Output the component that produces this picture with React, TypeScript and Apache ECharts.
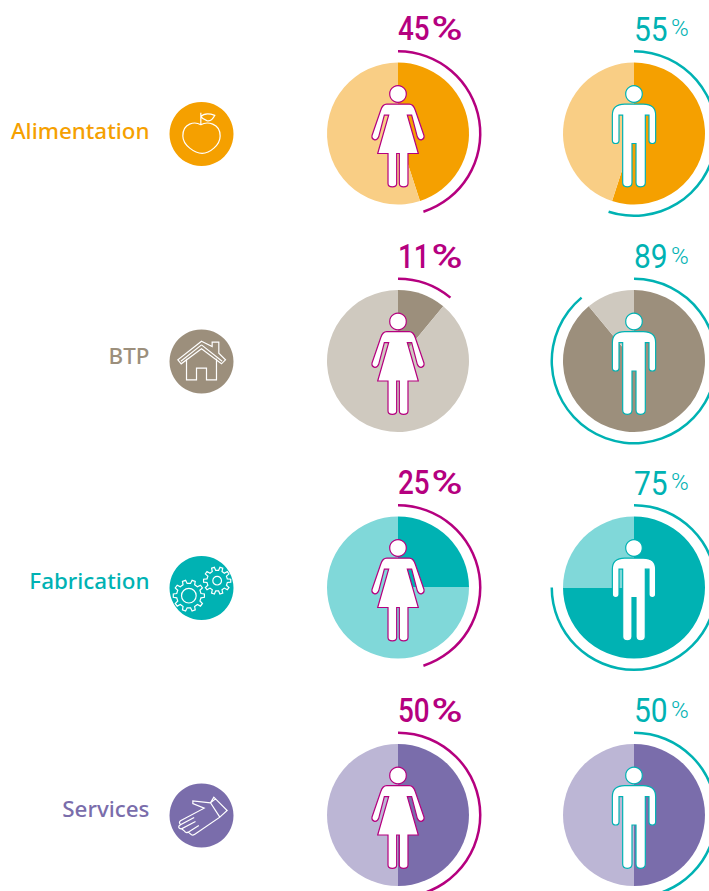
import React, { useEffect, useRef } from "react";
import * as echarts from "echarts";

const categories = ["Alimentation", "BTP", "Fabrication", "Services"];
const womenShare = [45, 11, 25, 50];
const menShare = [55, 89, 75, 50];
const womenArc = [45, 11, 45, 50];
const menArc = [55, 89, 75, 50];
const strongColors = ["#f5a000", "#9c8f7c", "#00b2b3", "#7a6dab"];
const paleColors = ["#f9ce85", "#cfc9bf", "#80d8d9", "#bcb6d5"];
const rowCenters = [133.5, 361, 587.5, 815];
const labelCenters = [130, 355, 580, 808];
const icons = ["apple", "house", "gears", "hand"];

const WOMAN = "#b5007f";
const MAN = "#00b2b3";
const WOMAN_X = 398;
const MAN_X = 634;
const ICON_X = 201.5;

function gear(cx: number, cy: number, ro: number, ri: number, teeth: number, hole: number) {
  const pts: string[] = [];
  const step = (Math.PI * 2) / teeth;
  for (let i = 0; i < teeth; i++) {
    const a = i * step;
    const seq: [number, number][] = [
      [ri, a - step * 0.28],
      [ro, a - step * 0.17],
      [ro, a + step * 0.17],
      [ri, a + step * 0.28],
    ];
    seq.forEach(([r, t], j) => {
      const p = `${(cx + r * Math.cos(t)).toFixed(1)},${(cy + r * Math.sin(t)).toFixed(1)}`;
      pts.push((i === 0 && j === 0 ? "M" : "L") + p);
    });
  }
  pts.push("Z");
  pts.push(`M${cx - hole},${cy} A${hole},${hole} 0 1,1 ${cx + hole},${cy} A${hole},${hole} 0 1,1 ${cx - hole},${cy} Z`);
  return pts.join(" ");
}

const PATHS: Record<string, string> = {
  womanBody:
    "M-34,-88 L34,-88 Q46,-88 52,-70 L78,6 Q80,16 70,19 Q62,20 58,10 L41,-55 L28,-55 L61,60 L30,60 L30,150 Q30,160 17,160 Q4,160 4,150 L4,60 L-4,60 L-4,150 Q-4,160 -17,160 Q-30,160 -30,150 L-30,60 L-61,60 L-28,-55 L-41,-55 L-58,10 Q-62,20 -70,19 Q-80,16 -78,6 L-52,-70 Q-46,-88 -34,-88 Z",
  manBody:
    "M-28,-88 L28,-88 Q65,-88 65,-55 L65,20 Q65,30 55,30 Q45,30 45,20 L45,-55 L34,-55 L34,147 Q34,160 20,160 Q6,160 6,147 L6,30 L-6,30 L-6,147 Q-6,160 -20,160 Q-34,160 -34,147 L-34,-55 L-45,-55 L-45,20 Q-45,30 -55,30 Q-65,30 -65,20 L-65,-55 Q-65,-88 -28,-88 Z",
  apple:
    "M-2,-28 C-20,-38 -56,-34 -56,6 C-56,34 -20,58 2,58 C24,58 56,34 56,6 C56,-34 16,-38 -2,-28 Z M-2,-28 L-2,-64 M-2,-52 Q10,-66 40,-56 Q30,-36 16,-40 Q4,-44 -2,-52 Z",
  house:
    "M0,-61 L32,-45 L32,-58 L52,-58 L52,-25 L72,-5 L60,7 L0,-38 L-61,7 L-71,-5 Z M0,-50 L-62,-1 M0,-50 L62,-1 M-45,-8 L-45,55 L-15,55 L-15,20 L15,20 L15,55 L45,55 L45,-8",
  gears: gear(-38, 23, 47, 37, 10, 22) + " " + gear(47, -22, 41, 31, 10, 13),
  hand:
    "M27,-38 L-26,-44 L-26,-36 L8,-22 L-63,16 Q-70,22 -62,27 L-22,6 M-62,27 L-68,32 Q-70,40 -60,40 L-18,18 M-60,40 L-52,46 Q-48,54 -40,50 L-8,30 M-40,50 L-30,58 Q-26,60 -20,56 L55,5 L27,-38 L37,-55 L77,-15 L55,5 M27,-38 L42,-50",
};

Object.keys(PATHS).forEach((name) => {
  echarts.graphic.registerShape(name, echarts.graphic.extendPath(PATHS[name] as any, {}) as any);
});

function sharePie(center: [number, number], value: number, strong: string, pale: string) {
  return {
    type: "pie",
    silent: true,
    center,
    radius: [0, 71],
    startAngle: 90,
    label: { show: false },
    labelLine: { show: false },
    itemStyle: { borderWidth: 0 },
    data: [
      { value, itemStyle: { color: strong } },
      { value: 100 - value, itemStyle: { color: pale } },
    ],
  };
}

function ringPie(center: [number, number], value: number, color: string) {
  return {
    type: "pie",
    silent: true,
    center,
    radius: [81, 83.5],
    startAngle: 90,
    label: { show: false },
    labelLine: { show: false },
    itemStyle: { borderWidth: 0 },
    data: [
      { value, itemStyle: { color } },
      { value: 100 - value, itemStyle: { color: "rgba(0,0,0,0)" } },
    ],
  };
}

const FIG = 1 / 3;

function figure(kind: "womanBody" | "manBody", x: number, y: number, color: string) {
  return [
    {
      type: kind,
      x,
      y,
      scaleX: FIG,
      scaleY: FIG,
      z: 50,
      silent: true,
      style: { fill: "#ffffff", stroke: color, lineWidth: 3.6 },
    },
    {
      type: "circle",
      x,
      y: y - 39.5,
      z: 50,
      silent: true,
      shape: { r: 8.3 },
      style: { fill: "#ffffff", stroke: color, lineWidth: 1.2 },
    },
  ];
}

function numberText(text: string, x: number, y: number, color: string, font: string, scaleX: number) {
  return {
    type: "text",
    x,
    y,
    scaleX,
    z: 50,
    style: { text, fill: color, font, align: "left", verticalAlign: "middle" },
  };
}

export default function App() {
  const ref = useRef<HTMLDivElement>(null);
  useEffect(() => {
    const chart = echarts.init(ref.current!, null, { renderer: "svg" });
    const series: any[] = [];
    const graphic: any[] = [];
    categories.forEach((cat, i) => {
      const y = rowCenters[i];
      series.push(sharePie([WOMAN_X, y], womenShare[i], strongColors[i], paleColors[i]));
      series.push(ringPie([WOMAN_X, y], womenArc[i], WOMAN));
      series.push(sharePie([MAN_X, y], menShare[i], strongColors[i], paleColors[i]));
      series.push(ringPie([MAN_X, y], menArc[i], MAN));
      graphic.push(...figure("womanBody", WOMAN_X, y, WOMAN));
      graphic.push(...figure("manBody", MAN_X, y, MAN));
      graphic.push({
        type: "text",
        x: 149.5,
        y: labelCenters[i],
        z: 50,
        style: {
          text: cat,
          fill: strongColors[i],
          font: '500 22.4px "Noto Sans"',
          align: "right",
          verticalAlign: "middle",
        },
      });
      graphic.push({
        type: "circle",
        x: ICON_X,
        y: y + 0.5,
        z: 50,
        shape: { r: 32 },
        style: { fill: strongColors[i] },
      });
      graphic.push({
        type: icons[i],
        x: ICON_X,
        y: y + 0.5,
        scaleX: FIG,
        scaleY: FIG,
        z: 51,
        silent: true,
        style: { fill: "none", stroke: "#ffffff", lineWidth: 3.6 },
      });
      const ty = y - 104.5;
      graphic.push(numberText(String(womenShare[i]), WOMAN_X, ty, WOMAN, '500 34px Roboto', 0.82));
      graphic.push(numberText("%", WOMAN_X + 33.5, ty, WOMAN, '500 33px Roboto', 1.28));
      graphic.push(numberText(String(menShare[i]), MAN_X, ty, MAN, '400 34px Roboto', 0.88));
      graphic.push(numberText("%", MAN_X + 37, ty - 1, MAN, '300 24px Roboto', 1));
    });
    chart.setOption({ animation: false, backgroundColor: "#ffffff", series, graphic });
    return () => chart.dispose();
  }, []);
  return (
    <div
      ref={ref}
      style={{ position: "fixed", left: 0, top: 0, width: 709, height: 891, overflow: "hidden" }}
    />
  );
}
